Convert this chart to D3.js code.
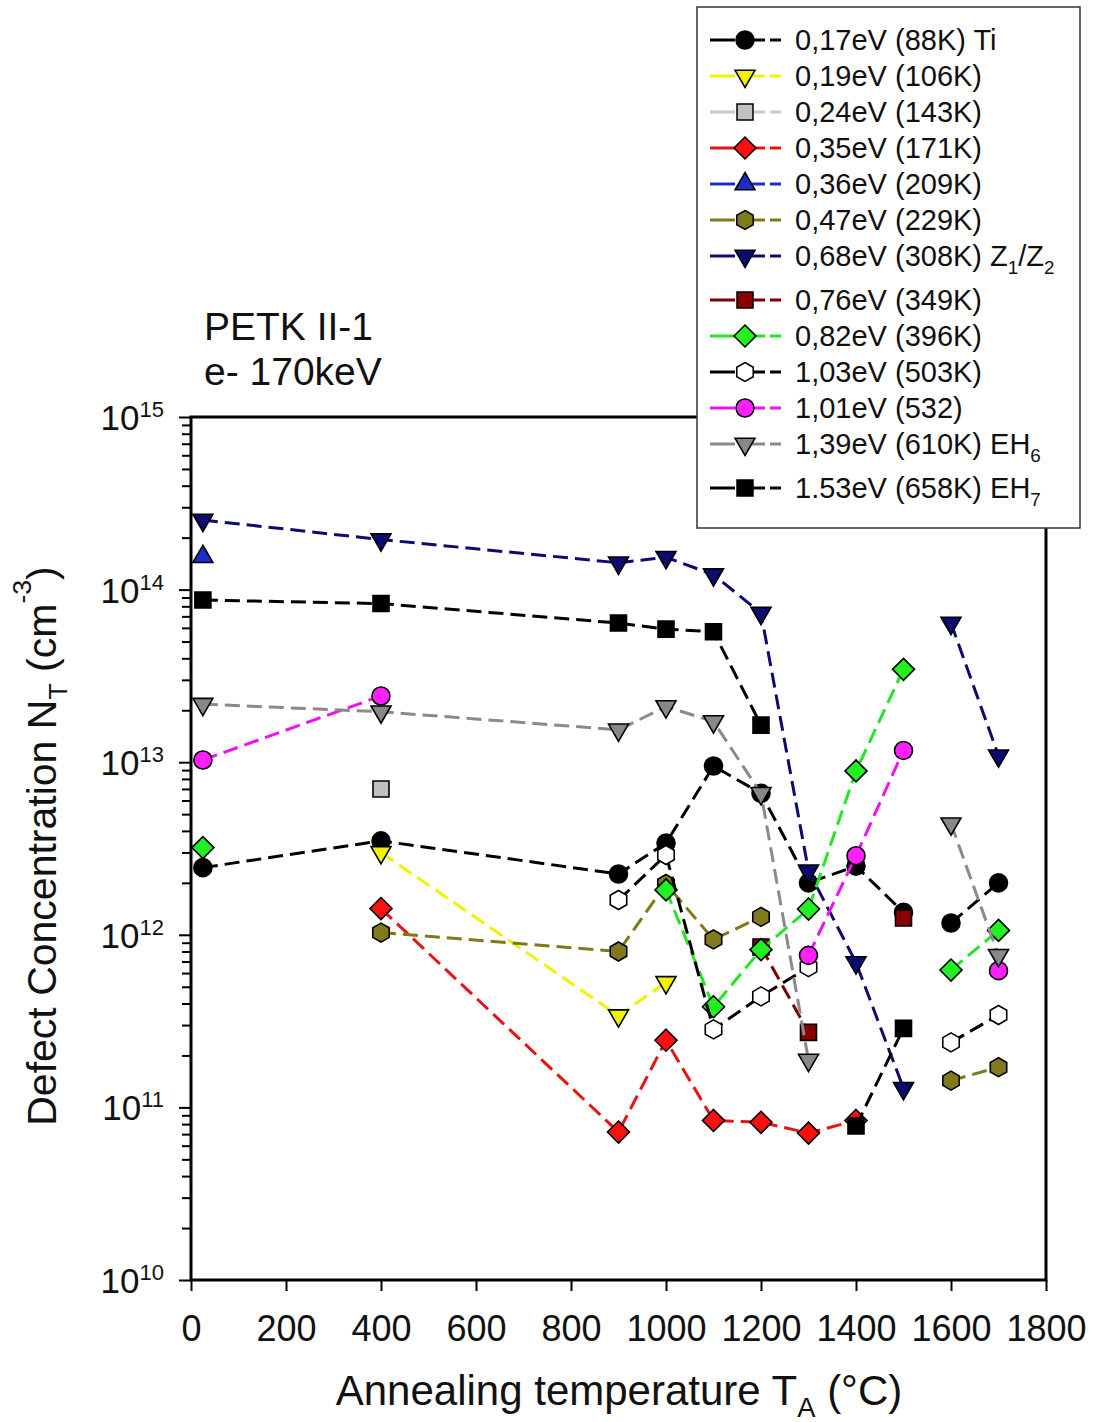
<!DOCTYPE html>
<html>
<head>
<meta charset="utf-8">
<script src="https://cdn.jsdelivr.net/npm/d3@7"></script>
<style>
body { margin: 0; background: #fff; }
text { font-family: "Liberation Sans", Arial, sans-serif; fill: #111; }
</style>
</head>
<body>
<script>
// annealing temperatures (°C); run number tells where the lines are broken
var temps = [25, 400, 900, 1000, 1100, 1200, 1300, 1400, 1500, 1600, 1700];
var runs  = [1, 1, 1, 1, 1, 1, 1, 1, 1, 2, 2];

// defect concentration N_T (cm^-3) per level, null = not seen
var e017 = [2.45e12, 3.5e12, 2.25e12, 3.4e12, 9.5e12, 6.6e12, 2.0e12, 2.5e12, 1.35e12, 1.17e12, 2.0e12];
var e019 = [null, 3.0e12, 3.4e11, 5.3e11, null, null, null, null, null, null, null];
var e024 = [null, 7.0e12, null, null, null, null, null, null, null, null, null];
var e035 = [null, 1.42e12, 7.2e10, 2.45e11, 8.4e10, 8.2e10, 7.1e10, 8.4e10, null, null, null];
var e036 = [1.55e14, null, null, null, null, null, null, null, null, null, null];
var e047 = [null, 1.03e12, 8.0e11, 1.97e12, 9.4e11, 1.27e12, null, null, null, 1.43e11, 1.71e11];
var e068 = [2.53e14, 1.95e14, 1.43e14, 1.54e14, 1.22e14, 7.3e13, 2.35e12, 6.9e11, 1.29e11, 6.4e13, 1.09e13];
var e076 = [null, null, null, null, null, 8.5e11, 2.72e11, null, 1.25e12, null, null];
var e082 = [3.2e12, null, null, 1.82e12, 3.83e11, 8.2e11, 1.41e12, 8.9e12, 3.45e13, 6.25e11, 1.06e12];
var e103 = [null, null, 1.59e12, 2.9e12, 2.83e11, 4.4e11, 6.5e11, null, null, 2.38e11, 3.43e11];
var e101 = [1.03e13, 2.42e13, null, null, null, null, 7.6e11, 2.87e12, 1.17e13, null, 6.2e11];
var e139 = [2.17e13, 1.96e13, 1.54e13, 2.1e13, 1.72e13, 6.6e12, 1.88e11, null, null, 4.4e12, 7.6e11];
var e153 = [8.7e13, 8.3e13, 6.4e13, 5.9e13, 5.7e13, 1.64e13, null, 7.8e10, 2.87e11, null, null];

var series = [e017, e019, e024, e035, e036, e047, e068, e076, e082, e103, e101, e139, e153];
var labels = ["0,17eV (88K) Ti", "0,19eV (106K)", "0,24eV (143K)", "0,35eV (171K)", "0,36eV (209K)",
              "0,47eV (229K)", "0,68eV (308K) Z_{1}/Z_{2}", "0,76eV (349K)", "0,82eV (396K)",
              "1,03eV (503K)", "1,01eV (532)", "1,39eV (610K) EH_{6}", "1.53eV (658K) EH_{7}"];

// styles
var lineColors = ["#000", "#f2f200", "#c8c8c8", "#e81414", "#1c2cc8", "#7f7a18", "#0c0c70",
                  "#7a0000", "#22e622", "#000", "#f010f0", "#8a8a8a", "#000"];
var fillColors = ["#000", "#f2f200", "#c0c0c0", "#ff1010", "#1c2cc8", "#807a1c", "#0c0c70",
                  "#880000", "#22f022", "#fff", "#ff20ff", "#888", "#000"];
var shapes = ["circle", "triDown", "square", "diamond", "triUp", "hexagon", "triDown",
              "square", "diamond", "hexagon", "circle", "triDown", "square"];

var W = 1095, H = 1422;
var svg = d3.select("body").append("svg").attr("width", W).attr("height", H);

var x = d3.scaleLinear().domain([0, 1800]).range([191, 1046]);
var y = d3.scaleLog().domain([1e10, 1e15]).range([1280, 417]);

function symbolPath(shape) {
  var p = d3.path();
  if (shape == "circle") {
    p.arc(0, 0, 9, 0, 2 * Math.PI);
  } else if (shape == "square") {
    p.rect(-8, -8, 16, 16);
  } else if (shape == "diamond") {
    p.moveTo(0, -11); p.lineTo(11, 0); p.lineTo(0, 11); p.lineTo(-11, 0); p.closePath();
  } else if (shape == "triUp") {
    p.moveTo(0, -11.5); p.lineTo(10, 5.8); p.lineTo(-10, 5.8); p.closePath();
  } else if (shape == "triDown") {
    p.moveTo(0, 11.5); p.lineTo(10, -5.8); p.lineTo(-10, -5.8); p.closePath();
  } else if (shape == "hexagon") {
    for (var k = 0; k < 6; k++) {
      var a = -Math.PI / 2 + k * Math.PI / 3;
      if (k == 0) p.moveTo(9.5 * Math.cos(a), 9.5 * Math.sin(a));
      else p.lineTo(9.5 * Math.cos(a), 9.5 * Math.sin(a));
    }
    p.closePath();
  }
  return p.toString();
}

// text with _{sub} and ^{sup} parts
function richText(sel, str, size, sup) {
  var re = /([_^])\{([^}]*)\}/g, last = 0, m, shift = 0;
  while ((m = re.exec(str)) !== null) {
    if (m.index > last) {
      sel.append("tspan").attr("dy", -shift).text(str.slice(last, m.index));
      shift = 0;
    }
    var d = m[1] == "_" ? size * 0.28 : -size * (sup || 0.5);
    sel.append("tspan").attr("font-size", size * 0.65).attr("dy", d - shift).text(m[2]);
    shift = d;
    last = re.lastIndex;
  }
  if (last < str.length) sel.append("tspan").attr("dy", -shift).text(str.slice(last));
}

// axes
var majors = y.ticks().filter(function(v) { return Math.abs(Math.log10(v) - Math.round(Math.log10(v))) < 1e-9; });
var minors = y.ticks().filter(function(v) { return majors.indexOf(v) < 0; });

svg.append("g")
    .attr("transform", "translate(191,0)")
    .call(d3.axisLeft(y).tickValues(minors).tickSize(9).tickSizeOuter(0).tickFormat(""))
    .call(function(g) { g.select(".domain").remove(); g.selectAll("line").attr("stroke-width", 2).attr("stroke", "#000"); });
svg.append("g")
    .attr("transform", "translate(191,0)")
    .call(d3.axisLeft(y).tickValues(majors).tickSize(12).tickSizeOuter(0).tickFormat(""))
    .call(function(g) { g.select(".domain").remove(); g.selectAll("line").attr("stroke-width", 2).attr("stroke", "#000"); });

svg.append("g")
    .attr("transform", "translate(0,1280)")
    .call(d3.axisBottom(x).tickValues(d3.range(0, 1801, 200)).tickSize(11).tickSizeOuter(0)
          .tickPadding(24).tickFormat(d3.format("d")))
    .call(function(g) {
      g.select(".domain").remove();
      g.selectAll("line").attr("stroke-width", 2).attr("stroke", "#000");
      g.selectAll("text").attr("font-size", 36).attr("font-family", "Liberation Sans, Arial, sans-serif").attr("fill", "#111");
    });

// y tick labels 10^n
majors.forEach(function(v) {
  var t = svg.append("text").attr("x", 164).attr("y", y(v) + 13).attr("text-anchor", "end").attr("font-size", 35);
  t.append("tspan").text("10");
  t.append("tspan").attr("font-size", 22).attr("dy", -13).text(Math.round(Math.log10(v)));
});

// frame
svg.append("rect").attr("x", 191).attr("y", 417).attr("width", 855).attr("height", 863)
    .attr("fill", "none").attr("stroke", "#000").attr("stroke-width", 3);

// data
series.forEach(function(vals, i) {
  var pts = temps.map(function(t, j) { return {t: t, v: vals[j], run: runs[j]}; });
  var line = d3.line()
      .defined(function(d) { return d.v != null; })
      .x(function(d) { return x(d.t); })
      .y(function(d) { return y(d.v); });
  d3.groups(pts, function(d) { return d.run; }).forEach(function(gr) {
    svg.append("path").attr("d", line(gr[1]))
        .attr("fill", "none").attr("stroke", lineColors[i]).attr("stroke-width", 3)
        .attr("stroke-dasharray", "15,7");
  });
  svg.selectAll(null).data(pts.filter(function(d) { return d.v != null; })).enter()
      .append("path")
      .attr("d", symbolPath(shapes[i]))
      .attr("transform", function(d) { return "translate(" + x(d.t) + "," + y(d.v) + ")"; })
      .attr("fill", fillColors[i]).attr("stroke", "#000").attr("stroke-width", 1.6);
});

// title
svg.append("text").attr("x", 204).attr("y", 340).attr("font-size", 39).text("PETK II-1");
svg.append("text").attr("x", 204).attr("y", 385).attr("font-size", 39).text("e- 170keV");

// axis titles
var yl = svg.append("text").attr("transform", "translate(56,846) rotate(-90)")
    .attr("text-anchor", "middle").attr("font-size", 41);
richText(yl, "Defect Concentration N_{T} (cm^{-3})", 41, 0.6);
var xl = svg.append("text").attr("x", 619).attr("y", 1405)
    .attr("text-anchor", "middle").attr("font-size", 42);
richText(xl, "Annealing temperature T_{A} (°C)", 42);

// legend
svg.append("rect").attr("x", 697).attr("y", 7).attr("width", 383).attr("height", 521)
    .attr("fill", "#fff").attr("stroke", "#333").attr("stroke-width", 1.5);
var ly = 40;
labels.forEach(function(lab, i) {
  svg.append("line").attr("x1", 710).attr("x2", 781).attr("y1", ly).attr("y2", ly)
      .attr("stroke", lineColors[i]).attr("stroke-width", 2.8).attr("stroke-dasharray", "25,5");
  svg.append("path").attr("d", symbolPath(shapes[i]))
      .attr("transform", "translate(745," + ly + ")")
      .attr("fill", fillColors[i]).attr("stroke", "#000").attr("stroke-width", 1.5);
  var t = svg.append("text").attr("x", 795).attr("y", ly + 10).attr("font-size", 29);
  richText(t, lab, 29);
  ly += lab.indexOf("_") >= 0 ? 44 : 36;
});
</script>
</body>
</html>
